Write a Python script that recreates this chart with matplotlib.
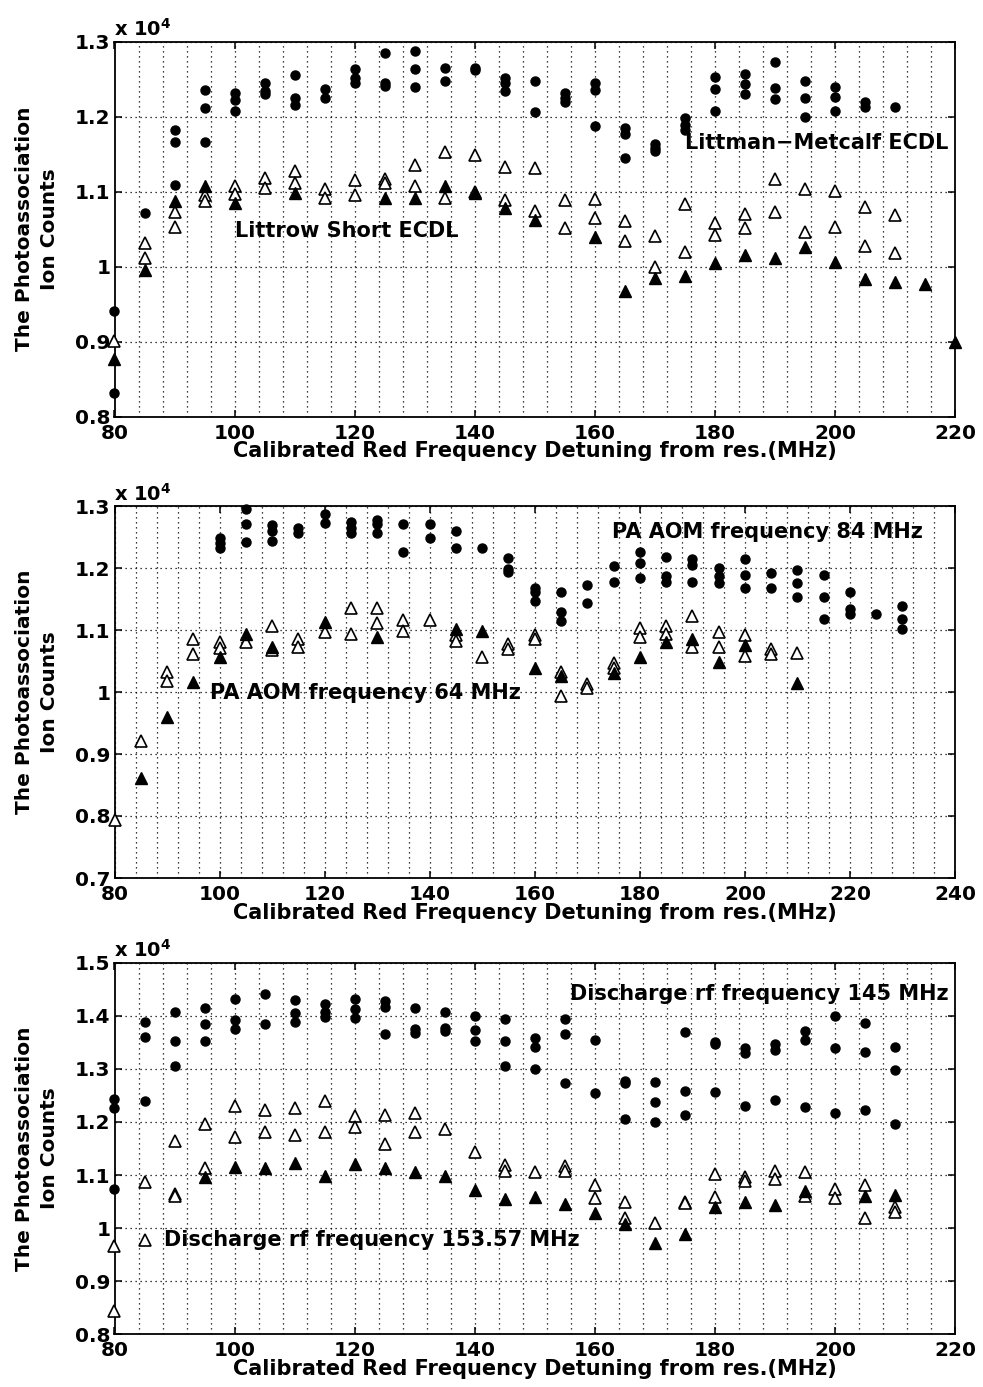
import matplotlib
matplotlib.use("Agg")
import matplotlib.pyplot as plt
from matplotlib.ticker import MultipleLocator, FixedLocator, FixedFormatter

plt.rcParams['font.family'] = ['DejaVu Sans']
plt.rcParams['font.weight'] = 'bold'
plt.rcParams['axes.labelweight'] = 'bold'

# ---------------- Panel 1: Littrow short ECDL vs Littman-Metcalf ECDL ----------------
p1_freq = [80, 85, 90, 95, 100, 105, 110, 115, 120, 125, 130, 135, 140, 145, 150,
           155, 160, 165, 170, 175, 180, 185, 190, 195, 200, 205, 210, 215, 220]
p1_dots = [[0.941, 0.832], [1.072], [1.182, 1.166, 1.109], [1.236, 1.211, 1.166],
           [1.231, 1.222, 1.207], [1.245, 1.234, 1.230], [1.256, 1.225, 1.216],
           [1.237, 1.225], [1.263, 1.251, 1.245], [1.285, 1.245, 1.241],
           [1.287, 1.263, 1.240], [1.265, 1.247], [1.265, 1.262],
           [1.251, 1.245, 1.234], [1.248, 1.206], [1.231, 1.225, 1.219],
           [1.245, 1.236, 1.188], [1.185, 1.177, 1.145], [1.163, 1.158, 1.154],
           [1.198, 1.189, 1.182], [1.253, 1.237, 1.207], [1.257, 1.244, 1.230],
           [1.273, 1.238, 1.223], [1.248, 1.225, 1.199], [1.239, 1.226, 1.208],
           [1.219, 1.213], [1.213], [], []]
p1_open = [[0.901], [1.032, 1.012], [1.073, 1.053], [1.095, 1.088], [1.107, 1.097],
           [1.118, 1.105], [1.127, 1.112], [1.104, 1.092], [1.116, 1.095],
           [1.117, 1.112], [1.135, 1.108], [1.153, 1.092], [1.149, 1.100],
           [1.133, 1.089], [1.131, 1.074], [1.089, 1.052], [1.090, 1.065],
           [1.061, 1.034], [1.041, 0.999], [1.084, 1.019], [1.058, 1.042],
           [1.070, 1.052], [1.117, 1.073], [1.104, 1.046], [1.101, 1.053],
           [1.080, 1.027], [1.069, 1.018], [], []]
p1_solid = [[0.877], [0.995], [1.087], [1.107], [1.085], [], [1.098], [], [],
            [1.092], [1.091], [1.107], [1.098], [1.078], [1.062], [], [1.040],
            [0.968], [0.985], [0.988], [1.005], [1.016], [1.011], [1.026],
            [1.006], [0.984], [0.979], [0.977], [0.899]]

# ---------------- Panel 2: PA AOM frequency 64 MHz vs 84 MHz ----------------
p2_freq = [80, 85, 90, 95, 100, 105, 110, 115, 120, 125, 130, 135, 140, 145, 150,
           155, 160, 165, 170, 175, 180, 185, 190, 195, 200, 205, 210, 215, 220,
           225, 230]
p2_dots = [[], [], [], [], [1.248, 1.241, 1.233], [1.295, 1.271, 1.242],
           [1.270, 1.260, 1.243], [1.265, 1.256], [1.287, 1.273],
           [1.274, 1.265, 1.256], [1.278, 1.271, 1.257], [1.271, 1.226],
           [1.271, 1.249], [1.260, 1.232], [1.233], [1.216, 1.199, 1.194],
           [1.168, 1.161, 1.146], [1.161, 1.129, 1.114], [1.173, 1.143],
           [1.203, 1.178], [1.225, 1.208, 1.184], [1.218, 1.187, 1.178],
           [1.214, 1.205, 1.178], [1.200, 1.187, 1.175], [1.215, 1.188, 1.168],
           [1.192, 1.168], [1.197, 1.176, 1.153], [1.188, 1.153, 1.118],
           [1.161, 1.134, 1.125], [1.125], [1.139, 1.118, 1.102]]
p2_open = [[0.793], [0.921], [1.032, 1.017], [1.085, 1.061], [1.081, 1.071],
           [1.081], [1.106, 1.068], [1.086, 1.073], [1.096], [1.136, 1.093],
           [1.136, 1.112], [1.116, 1.098], [1.116], [1.092, 1.083], [1.056],
           [1.077, 1.069], [1.092, 1.085], [1.033, 0.994], [1.013, 1.006],
           [1.046, 1.038], [1.104, 1.088], [1.106, 1.093], [1.123, 1.073],
           [1.097, 1.073], [1.092, 1.058], [1.069, 1.062], [1.063], [], [], [], []]
p2_solid = [[], [0.861], [0.959], [1.016], [1.056], [1.093], [1.073], [], [1.113],
            [], [1.089], [], [], [1.101], [1.098], [], [1.038], [1.026], [],
            [1.030], [1.057], [1.080], [1.086], [1.049], [1.076], [], [1.015],
            [], [], [], []]

# ---------------- Panel 3: discharge rf frequency 153.57 MHz vs 145 MHz ----------------
p3_freq = [80, 85, 90, 95, 100, 105, 110, 115, 120, 125, 130, 135, 140, 145, 150,
           155, 160, 165, 170, 175, 180, 185, 190, 195, 200, 205, 210]
p3_dots = [[1.2425, 1.227, 1.074], [1.389, 1.360, 1.239], [1.408, 1.352, 1.306],
           [1.414, 1.385, 1.352], [1.431, 1.393, 1.376], [1.441, 1.385],
           [1.429, 1.405, 1.388], [1.4225, 1.408, 1.3975], [1.431, 1.4125, 1.396],
           [1.427, 1.416, 1.366], [1.414, 1.375, 1.3675], [1.408, 1.377, 1.371],
           [1.399, 1.3725, 1.353], [1.394, 1.353, 1.305], [1.359, 1.341, 1.300],
           [1.394, 1.366, 1.2725], [1.355, 1.254], [1.277, 1.2725, 1.206],
           [1.276, 1.2375, 1.200], [1.369, 1.258, 1.213], [1.350, 1.346, 1.256],
           [1.339, 1.330, 1.231], [1.346, 1.335, 1.241], [1.371, 1.355, 1.229],
           [1.399, 1.339, 1.216], [1.386, 1.331, 1.2225], [1.341, 1.2975, 1.196]]
p3_open = [[0.966, 0.844], [1.086, 0.978], [1.164, 1.064, 1.061], [1.196, 1.113],
           [1.230, 1.171], [1.223, 1.181], [1.226, 1.175], [1.239, 1.181],
           [1.211, 1.191], [1.2125, 1.159], [1.216, 1.182], [1.186], [1.144],
           [1.119, 1.108], [1.105], [1.1175, 1.108], [1.081, 1.056],
           [1.049, 1.019], [1.010], [1.050, 1.047], [1.102, 1.059],
           [1.096, 1.089], [1.107, 1.0925], [1.105, 1.060], [1.074, 1.056],
           [1.081, 1.019], [1.039, 1.031]]
p3_solid = [[], [], [], [1.096], [1.116], [1.114], [1.122], [1.0975], [1.121],
            [1.113], [1.105], [1.0975], [1.0725], [1.055], [1.059], [1.046],
            [1.029], [1.008], [0.972], [0.989], [1.039], [1.049], [1.044],
            [1.069], [], [1.060], [1.0625]]

x_label = "Calibrated Red Frequency Detuning from res.(MHz)"
y_label = "The Photoassociation\nIon Counts"

panels = [
    dict(freq=p1_freq, dots=p1_dots, open_=p1_open, solid=p1_solid,
         xlim=(80, 220), ylim=(0.8, 1.3),
         yticks=[0.8, 0.9, 1.0, 1.1, 1.2, 1.3],
         ylabels=["0.8", "0.9", "1", "1.1", "1.2", "1.3"],
         notes=[(100.0, 1.047, "Littrow Short ECDL"),
                (175.0, 1.165, "Littman\u2212Metcalf ECDL")]),
    dict(freq=p2_freq, dots=p2_dots, open_=p2_open, solid=p2_solid,
         xlim=(80, 240), ylim=(0.7, 1.3),
         yticks=[0.7, 0.8, 0.9, 1.0, 1.1, 1.2, 1.3],
         ylabels=["0.7", "0.8", "0.9", "1", "1.1", "1.2", "1.3"],
         notes=[(98.1, 0.998, "PA AOM frequency 64 MHz"),
                (174.7, 1.258, "PA AOM frequency 84 MHz")]),
    dict(freq=p3_freq, dots=p3_dots, open_=p3_open, solid=p3_solid,
         xlim=(80, 220), ylim=(0.8, 1.5),
         yticks=[0.8, 0.9, 1.0, 1.1, 1.2, 1.3, 1.4, 1.5],
         ylabels=["0.8", "0.9", "1", "1.1", "1.2", "1.3", "1.4", "1.5"],
         notes=[(88.3, 0.977, "Discharge rf frequency 153.57 MHz"),
                (155.8, 1.441, "Discharge rf frequency 145 MHz")]),
]

W, H = 983, 1387
fig = plt.figure(figsize=(W / 100, H / 100), dpi=100)

# axes boxes in pixels: (left, top, right, bottom)
boxes = [(114.5, 41.7, 955, 416.7), (114.5, 506, 955, 878), (114.5, 962.7, 955, 1334.3)]


def flatten(freq, groups):
    xs, ys = [], []
    for f, vals in zip(freq, groups):
        for v in vals:
            xs.append(f)
            ys.append(v)
    return xs, ys


for spec, (l, t, r, b) in zip(panels, boxes):
    ax = fig.add_axes([l / W, 1 - b / H, (r - l) / W, (b - t) / H])

    x, y = flatten(spec["freq"], spec["dots"])
    ax.plot(x, y, linestyle="none", marker="o", ms=6.5, mfc="black", mec="black",
            clip_on=False, zorder=3)
    x, y = flatten(spec["freq"], spec["open_"])
    ax.plot(x, y, linestyle="none", marker="^", ms=8, mfc="white", mec="black",
            mew=1.2, clip_on=False, zorder=3)
    x, y = flatten(spec["freq"], spec["solid"])
    ax.plot(x, y, linestyle="none", marker="^", ms=8, mfc="black", mec="black",
            clip_on=False, zorder=4)

    ax.set_xlim(*spec["xlim"])
    ax.set_ylim(*spec["ylim"])
    ax.xaxis.set_major_locator(MultipleLocator(20))
    ax.xaxis.set_minor_locator(MultipleLocator(4))
    ax.yaxis.set_major_locator(FixedLocator(spec["yticks"]))
    ax.yaxis.set_major_formatter(FixedFormatter(spec["ylabels"]))

    dots = (0, (1, 3))
    ax.grid(True, which="major", axis="y", linestyle=dots, color="black", lw=0.9)
    ax.grid(True, which="minor", axis="x", linestyle=dots, color="black", lw=0.9)
    ax.grid(True, which="major", axis="x", linestyle=dots, color="black", lw=0.9)
    ax.set_axisbelow(True)

    ax.tick_params(which="major", direction="in", length=5, width=1.1,
                   top=True, right=True, labelsize=14.5, pad=3)
    ax.tick_params(axis="x", which="major", pad=5)
    ax.tick_params(which="minor", length=0)
    for sp in ax.spines.values():
        sp.set_linewidth(1.3)

    ax.set_xlabel(x_label, fontsize=15, labelpad=-1)
    ax.set_ylabel(y_label, fontsize=14.5, linespacing=1.4)
    ax.yaxis.set_label_coords(-0.066, 0.5)

    ax.text(0.0, 1.004, r"x 10$^{\mathregular{4}}$", transform=ax.transAxes,
            fontsize=14, ha="left", va="bottom")

    for nx, ny, txt in spec["notes"]:
        ax.text(nx, ny, txt, fontsize=15, ha="left", va="center", zorder=5)

fig.savefig("out.png", dpi=100)
